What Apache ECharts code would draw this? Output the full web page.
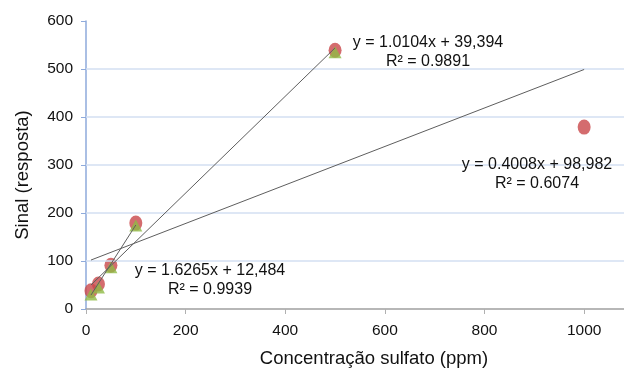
<!DOCTYPE html>
<html>
<head>
<meta charset="utf-8">
<script src="https://cdn.jsdelivr.net/npm/echarts@6/dist/echarts.min.js"></script>
<style>
  html, body { margin: 0; padding: 0; background: #fff; }
  #chart { width: 624px; height: 369px; }
</style>
</head>
<body>
<div id="chart"></div>
<script>
// measured points (red circles / green triangles)
const sinalA = [[10, 38], [25, 52], [50, 91], [100, 179], [500, 539], [1000, 379]];
const sinalB = [[10, 30], [25, 45], [50, 87], [100, 174], [500, 535]];

// trend line end points
const trend1 = [[10, 29], [100, 175]];
const trend2 = [[10, 50], [500, 544]];
const trend3 = [[10, 102], [1000, 499]];

const gridValues = [100, 200, 300, 400, 500];

const eqLabels = [
  { text: 'y = 1.0104x + 39,394\nR² = 0.9891', x: 428, y: 52 },
  { text: 'y = 0.4008x + 98,982\nR² = 0.6074', x: 537, y: 174 },
  { text: 'y = 1.6265x + 12,484\nR² = 0.9939', x: 210, y: 280 }
];

const font = 'Liberation Sans, Arial, Helvetica, sans-serif';
const chart = echarts.init(document.getElementById('chart'));

const trendStyle = { color: '#5e5e5e', width: 1 };
const trendSeries = [trend1, trend2, trend3].map(d => ({
  type: 'line',
  data: d,
  symbol: 'none',
  lineStyle: trendStyle,
  silent: true,
  z: 5
}));

chart.setOption({
  animation: false,
  backgroundColor: '#fff',
  textStyle: { fontFamily: font },
  grid: { left: 86, right: 0, top: 21, bottom: 60, containLabel: false, outerBoundsMode: 'none' },
  xAxis: {
    type: 'value',
    min: 0,
    max: 1080,
    interval: 200,
    name: 'Concentração sulfato (ppm)',
    nameLocation: 'middle',
    nameGap: 40,
    nameTextStyle: { fontSize: 18.5, color: '#111', fontFamily: font, padding: [0, 0, 0, 38] },
    axisLine: { lineStyle: { color: '#a0a0a0', width: 1.5 } },
    axisTick: { show: true, length: 5, lineStyle: { color: '#b0b0b0' } },
    axisLabel: {
      fontSize: 15.5, color: '#111', margin: 14, fontFamily: font,
      showMaxLabel: false,
      formatter: v => (v % 200 === 0 ? String(v) : '')
    },
    splitLine: { show: false }
  },
  yAxis: {
    type: 'value',
    min: 0,
    max: 600,
    interval: 100,
    name: 'Sinal (resposta)',
    nameLocation: 'middle',
    nameGap: 54,
    nameRotate: 90,
    nameTextStyle: { fontSize: 18.5, color: '#111', fontFamily: font, padding: [0, 20, 0, 0] },
    axisLine: { show: true, lineStyle: { color: '#8eaadb', width: 1.5 } },
    axisTick: { show: true, length: 5, lineStyle: { color: '#8eaadb' } },
    axisLabel: { fontSize: 15.5, color: '#111', margin: 13, fontFamily: font },
    splitLine: { show: false }
  },
  series: [
    {
      type: 'scatter',
      data: sinalA,
      symbol: 'circle',
      symbolSize: [13, 15],
      itemStyle: { color: '#c9474a' },
      markLine: {
        silent: true,
        symbol: 'none',
        label: { show: false },
        lineStyle: { color: '#d3dff2', width: 1.5, type: 'solid' },
        data: gridValues.map(v => ({ yAxis: v }))
      }
    },
    {
      type: 'scatter',
      data: sinalB,
      symbol: 'triangle',
      symbolSize: [13, 12],
      itemStyle: { color: '#8fba45' }
    },
    ...trendSeries
  ],
  graphic: eqLabels.map(l => ({
    type: 'text',
    x: l.x,
    y: l.y,
    z: 10,
    style: {
      text: l.text,
      fill: '#111',
      font: '16px ' + font,
      align: 'center',
      verticalAlign: 'middle',
      lineHeight: 19
    }
  }))
});
</script>
</body>
</html>
